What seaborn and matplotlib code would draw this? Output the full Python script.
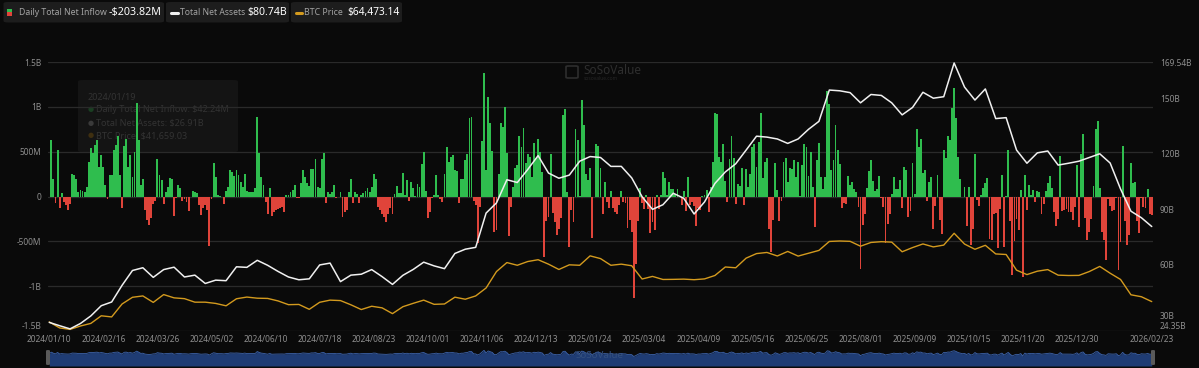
import numpy as np
import pandas as pd
import matplotlib
matplotlib.use("Agg")
import matplotlib.pyplot as plt
from matplotlib.patches import FancyBboxPatch, Rectangle
import seaborn as sns

# ---------------- data ----------------
# Daily total net inflow (US$ millions), one value per trading day 2024/01/10 .. 2026/02/23
inflow_m = [
    0, 625, 190, -78, 515, -125, 44, -60, -100, -150,
    -80, 255, 244, 190, 50, 75, 60, 45, 107, 390,
    540, 490, 570, 625, 330, 465, 330, 125, -30, 237,
    245, 515, 570, 670, 237, -133, 560, 645, 330, 465,
    220, 495, 1040, 625, 125, 190, -150, -260, -320, -245,
    -80, -50, 415, 245, 180, -80, 45, 107, 207, 200,
    -215, -15, 125, 90, -50, -30, -60, -165, 0, 60,
    50, 40, -95, -205, -133, -95, -150, -550, -30, 378,
    220, 15, 5, 0, -80, 60, 107, 300, 275, 230,
    290, 237, 163, 107, 250, 60, 45, 45, 50, 90,
    885, 485, 220, 125, -60, -200, 96,
    -215, -170, -150, -140, -125, -115, -170, 22, 15, 45,
    70, 125, -15, -15, 145, 292, 218, 155, 118, 310,
    303, 420, 107, 96, 420, 485, -78, 45, 33, 52,
    125, -15, 0, 45, -225, -170, -150, 52, 190, -78,
    45, 33, -78, 15, 40, 60, 90, 52, 107, 255,
    200, -115, -150, -190, -225, -280, -190, -133, -200,
    28, 117, 39, 40, 263, 12, 187, -53, 158, 92,
    5, 136, 106, 365, 494, 61, -243, -170, -22, 22,
    237, 15, -33, -60, 255, 550, 385, 440, 465, 290,
    280, -78, 190, 200, 403, 477, 870, 890, -54, -95,
    -520, -115, 615, 1376, 294, 1114,
    818, 511, -400, -370, 255, 816, 773, 1000, 490, -438,
    -122, 105, 320, 353, 676, 557, 766, 376, 479, 439,
    223, 597, 428, 637, 493, 276, -672, -277, -226, 475,
    -183, -288, -426, -365, -242, 908, 978, 52, -568, -149,
    -284, 755, 626, 7, 1072, 802, 249, 188, 318, -458,
    -4, 588, 565, 318,
    -190, 163, -60, -133, 60, -133, -170, -190, -95, 60,
    -60, -78, -355, -265, -400, -1135, -755, -275, 94, -74,
    -143, 22, -134, -409, -280, -371, 13, -135, 18, 275,
    209, 12, 165, 84, 84, 27, 89, -1, -93, 60,
    -157, 220, -100, -64, -109, -326, -127, -150, 2, 15,
    76, -170, 107,
    381, 936, 917, 442, 380, 591, 173, -56, 422, 675,
    425, -86, 142, 117, 321, -96, 310, 107, 255, 550,
    590, 330, 608, 934, 211, 385, 432, -358, -616, -267,
    378, 70, -278, -47, 386, 431, 165, 322, 302, 408,
    216, 389, 6, 350, 588, 548, 226, 501, 102, -342,
    408, 602, 216, 80, 218, 1180, 1030, 292, 403, 799,
    523, 363, -131, -68, -86, 226, 131, 157, 80, 47,
    -114, -812, -323, -196, 91, 281, 404, 178, 65, 86,
    231, -14, -122, -523, -311, -194, 23, 219, 88, 81,
    179, -126, 333, 301, -227, -160, 369, 23, 757, 553,
    642,
    260, 292, -51, 163, 223, -363, -104, 241, -258, -418,
    522, 430, 676, 627, 985, 1205, 875, 441, 198, -4,
    102, -326, 102, -536, -367, 477, -40, -101, 20, 90,
    149, 202, -471, -488, -191, -187, -578, -137, 240, -558,
    1, 524, -278, -870, -492, -255, -373, 75, -903, 238,
    -151, 129, 21, 71, -60, 58, 50, -195, -87, 60,
    152, 224, 90, -170, -330, -250, 457, -161, -150, -142,
    -170, -175, -265, -115, 355, -337, 471, 697, -243, -486,
    -398, -250, 117, 754, 843, 100, -395, -483, -709, -32,
    -104, -160, -147, -19, -818, -510, 562, -272, -545, -434,
    371, 145, 167, -276, -410, -22, -115, -133, 88, -190,
    -204,
]

# Total net assets (US$ billions), sampled every 5 trading days
tna_b = [
    29.0, 27.2, 25.5, 28.4, 32.5, 38.0, 40.0, 49.0, 57.0, 58.5,
    53.3, 57.5, 58.8, 53.5, 54.5, 50.0, 51.8, 51.5, 59.0, 58.7,
    62.5, 59.8, 56.5, 53.5, 52.0, 52.5, 60.0, 61.0, 51.0, 54.5,
    55.0, 57.5, 53.7, 49.5, 54.4, 57.6, 61.5, 59.5, 58.0, 66.2,
    68.5, 69.5, 88.0, 93.5, 106.0, 104.5, 111.5, 119.0, 109.6, 106.8,
    108.5, 116.0, 118.5, 118.0, 113.2, 113.2, 107.0, 96.8, 90.0, 92.5,
    98.7, 96.0, 87.5, 94.0, 104.0, 110.2, 114.6, 122.0, 129.5, 129.0,
    128.0, 125.6, 128.0, 133.2, 137.5, 154.4, 154.0, 153.0, 147.5, 152.0,
    151.5, 147.5, 141.0, 145.0, 153.2, 150.0, 150.8, 169.0, 156.0, 149.0,
    155.0, 139.0, 139.5, 122.0, 114.9, 120.5, 121.5, 113.9, 114.9, 116.0,
    118.0, 120.0, 115.0, 101.0, 89.0, 85.5, 80.74,
]

# BTC price (US$ thousands), sampled every 5 trading days
btc_k = [
    46.6, 41.3, 40.0, 43.0, 45.3, 52.0, 51.0, 62.4, 68.3, 69.5,
    63.8, 70.7, 67.8, 67.1, 64.0, 64.0, 62.9, 60.8, 67.0, 68.5,
    67.5, 67.3, 65.1, 61.8, 62.0, 57.7, 63.9, 65.8, 65.4, 61.7,
    57.5, 60.4, 59.0, 53.9, 60.0, 63.0, 65.8, 62.1, 62.4, 68.4,
    66.6, 69.5, 76.5, 91.0, 98.9, 96.5, 99.8, 101.4, 97.5, 92.8,
    96.9, 96.5, 104.8, 102.4, 96.5, 97.5, 96.1, 84.4, 86.7, 84.0,
    84.1, 84.3, 83.8, 84.5, 87.5, 95.0, 94.3, 102.8, 106.8, 107.8,
    104.7, 108.7, 104.6, 107.1, 109.6, 117.5, 117.9, 117.6, 113.3, 116.6,
    117.3, 116.9, 108.4, 112.1, 115.3, 112.7, 114.3, 124.7, 115.2, 110.6,
    114.1, 106.5, 106.0, 92.2, 88.3, 91.3, 92.7, 87.8, 87.5, 87.6,
    91.0, 95.5, 89.5, 84.0, 70.5, 68.8, 64.5,
]

tick_labels = [
    "2024/01/10", "2024/02/16", "2024/03/26", "2024/05/02", "2024/06/10",
    "2024/07/18", "2024/08/23", "2024/10/01", "2024/11/06", "2024/12/13",
    "2025/01/24", "2025/03/04", "2025/04/09", "2025/05/16", "2025/06/25",
    "2025/08/01", "2025/09/09", "2025/10/15", "2025/11/20", "2025/12/30",
    "2026/02/23",
]
left_ticks = [-1.5e9, -1e9, -5e8, 0, 5e8, 1e9, 1.5e9]
left_labels = ["-1.5B", "-1B", "-500M", "0", "500M", "1B", "1.5B"]
right_ticks = [24.35, 30, 60, 90, 120, 150, 169.54]
right_labels = ["24.35B", "30B", "60B", "90B", "120B", "150B", "169.54B"]

# ---------------- style ----------------
BG = "#0a0a0a"
GRID = "#2a2a2a"
GREEN = "#2fbd4e"
RED = "#e0443a"
WHITE = "#f0f0f0"
ORANGE = "#d39a1e"
TXT = "#8e8e8e"

sns.set_style("dark")
plt.rcParams["font.family"] = ["Noto Sans", "DejaVu Sans"]
plt.rcParams["patch.edgecolor"] = "none"
plt.rcParams["patch.force_edgecolor"] = False

W, H = 1199, 368
fig = plt.figure(figsize=(W / 100, H / 100), dpi=100, facecolor=BG)


def fx(px):
    return px / W


def fy(py):
    return 1 - py / H


n = len(inflow_m)
idx = np.arange(n)
step = 5
line_idx = np.arange(0, n, step)

ax = fig.add_axes([fx(48), 37 / H, 1105 / W, 269 / H])
ax.set_facecolor("none")
vals = np.array(inflow_m, dtype=float) * 1e6
pos = vals >= 0
for mask, col in ((pos, GREEN), (~pos, RED)):
    sns.barplot(x=idx[mask], y=vals[mask], native_scale=True, color=col,
                width=0.9, saturation=1, errorbar=None, ax=ax,
                edgecolor="none", linewidth=0)
for p in ax.patches:
    p.set_edgecolor("none")
    p.set_linewidth(0)
ax.set_ylim(-1.5e9, 1.5e9)
ax.set_yticks(left_ticks)
ax.set_yticklabels(left_labels)
ax.yaxis.grid(True, color=GRID, lw=0.9, zorder=0)
ax.xaxis.grid(False)
ax.set_axisbelow(True)
xt = [26 * k for k in range(len(tick_labels) - 1)] + [n - 1]
ax.set_xticks(xt)
ax.set_xticklabels(tick_labels)
ax.tick_params(axis="both", length=0, colors=TXT, labelsize=6)
ax.tick_params(axis="x", pad=3)
ax.tick_params(axis="y", pad=5)
for s in ax.spines.values():
    s.set_visible(False)
ax.set_xlabel("")
ax.set_ylabel("")

# BTC price axis (hidden)
ax3 = ax.twinx()
sns.lineplot(x=line_idx, y=btc_k, ax=ax3, color=ORANGE, linewidth=1.0)
ax3.set_ylim(38.6, 275.6)
ax3.axis("off")

# Total net assets axis (right)
ax2 = ax.twinx()
sns.lineplot(x=line_idx, y=tna_b, ax=ax2, color=WHITE, linewidth=1.1)
ax2.set_ylim(24.35, 169.54)
ax2.set_yticks(right_ticks)
ax2.set_yticklabels(right_labels)
ax2.tick_params(axis="y", length=0, colors=TXT, labelsize=6, pad=5)
ax2.grid(False)
ax2.set_ylabel("")
for s in ax2.spines.values():
    s.set_visible(False)
for a in (ax, ax2, ax3):
    a.set_xlim(-0.6, n - 0.4)
ax2.patch.set_visible(False)
ax3.patch.set_visible(False)
ax.get_yticklabels()[0].set_va("bottom")
ax2.get_yticklabels()[0].set_va("bottom")
ax2.get_yticklabels()[1].set_va("bottom")

# ---------------- header pills ----------------
renderer = fig.canvas.get_renderer()


def fit_text(x, y, s, target_w, color, weight="normal"):
    t = fig.text(fx(x), fy(y), s, fontsize=8, color=color, weight=weight,
                 va="center", ha="left")
    w = t.get_window_extent(renderer=renderer).width
    t.set_fontsize(8 * target_w / w)
    return t


def pill(x0, x1):
    p = FancyBboxPatch((fx(x0), fy(22.5)), fx(x1 - x0), 20.5 / H,
                       boxstyle="round,pad=0,rounding_size=0.004",
                       transform=fig.transFigure, facecolor="#1d1d1d",
                       edgecolor="none")
    fig.patches.append(p)


pill(3.5, 164)
pill(166, 289)
pill(291, 402)
fig.patches.append(Rectangle((fx(6.5), fy(12.5)), fx(5), 3.5 / H,
                             transform=fig.transFigure, facecolor=GREEN))
fig.patches.append(Rectangle((fx(6.5), fy(16)), fx(5), 3.5 / H,
                             transform=fig.transFigure, facecolor=RED))
fig.lines.append(plt.Line2D([fx(171), fx(178)], [fy(12.5), fy(12.5)],
                            transform=fig.transFigure, color=WHITE, lw=2.2,
                            solid_capstyle="round"))
fig.lines.append(plt.Line2D([fx(295.5), fx(301.5)], [fy(12.5), fy(12.5)],
                            transform=fig.transFigure, color=ORANGE, lw=2.2,
                            solid_capstyle="round"))
fit_text(19, 12.5, "Daily Total Net Inflow", 88, "#a3a3a3")
fit_text(109, 12.5, "-$203.82M", 53, "#ffffff", "bold")
fit_text(180, 12.5, "Total Net Assets", 65, "#a3a3a3")
fit_text(247, 12.5, "$80.74B", 40, "#ffffff", "bold")
fit_text(304, 12.5, "BTC Price", 39, "#a3a3a3")
fit_text(347, 12.5, "$64,473.14", 52, "#ffffff", "bold")

# ---------------- faint tooltip (behind the plot) & watermark ----------------
tip = FancyBboxPatch((fx(78), fy(152)), fx(160), 72 / H,
                     boxstyle="round,pad=0,rounding_size=0.004",
                     transform=fig.transFigure, facecolor="#141414",
                     edgecolor="none", zorder=-2)
fig.patches.append(tip)
fig.text(fx(88), fy(97), "2024/01/19", fontsize=6.5, color="#333333", va="center", zorder=-1)
for yy, col, s in [(110, "#1a3f22", "Daily Total Net Inflow: $42.24M"),
                   (123, "#3a3a3a", "Total Net Assets: $26.91B"),
                   (136, "#3f2f10", "BTC Price: $41,659.03")]:
    fig.text(fx(88), fy(yy), "\u25cf", fontsize=5, color=col, va="center", zorder=-1)
    fig.text(fx(96), fy(yy), s, fontsize=6.5, color="#333333", va="center", zorder=-1)

fig.text(fx(583), fy(70), "SoSoValue", fontsize=8.5, color="#2e2e2e",
         weight="bold", va="center", zorder=-1)
fig.text(fx(584), fy(78), "sosovalue.com", fontsize=3.5, color="#262626", va="center", zorder=-1)
fig.patches.append(FancyBboxPatch((fx(566), fy(78)), fx(12), 12 / H,
                                  boxstyle="round,pad=0,rounding_size=0.002",
                                  transform=fig.transFigure, facecolor="none",
                                  edgecolor="#2e2e2e", lw=1.2, zorder=-1))

# ---------------- navigator ----------------
axn = fig.add_axes([fx(48), 2 / H, 1105 / W, 16 / H])
axn.set_facecolor(BG)
axn.fill_between(idx, -5000, inflow_m, color="#1f3c74", lw=0)
axn.plot(idx, inflow_m, color="#3d63aa", lw=0.6)
axn.set_xlim(-0.6, n - 0.4)
axn.set_ylim(-5000, 1500)
axn.axis("off")
for xe in (48, 1153):
    fig.patches.append(FancyBboxPatch((fx(xe - 2), fy(365)), fx(4), 15 / H,
                                      boxstyle="round,pad=0,rounding_size=0.002",
                                      transform=fig.transFigure, facecolor="#5a5a5a",
                                      edgecolor="none"))
fig.text(fx(575), fy(356), "SoSoValue", fontsize=7, color="#34507e", weight="bold", va="center")

fig.savefig("out.png", dpi=100, facecolor=BG)
